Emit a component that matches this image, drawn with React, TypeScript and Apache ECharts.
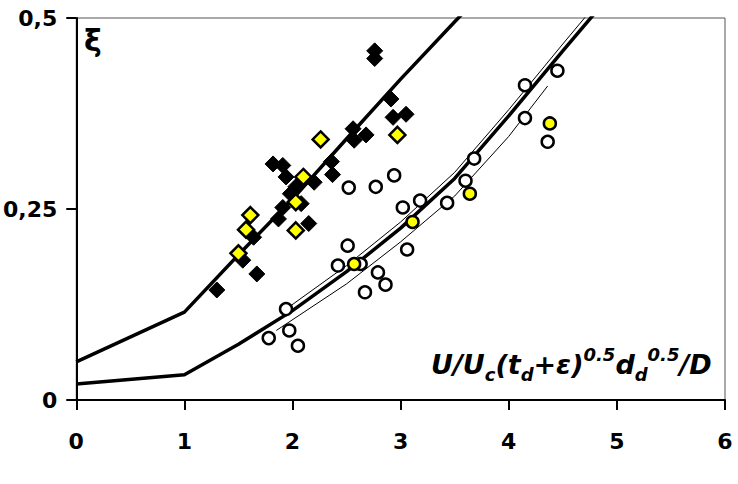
import React, { useEffect, useRef } from "react";
import * as echarts from "echarts";

// Fitted curves
const upperCurveX = [0, 1, 1.5, 2, 2.5, 3, 3.5, 3.6];
const upperCurveY = [0.05, 0.115, 0.19, 0.263, 0.342, 0.42, 0.495, 0.51];

const lowerCurveX = [0, 1, 1.5, 2, 2.5, 3, 3.5, 4, 4.5, 4.8];
const lowerCurveY = [0.021, 0.033, 0.073, 0.117, 0.168, 0.225, 0.29, 0.372, 0.457, 0.507];

const thinUpperX = [1.95, 2.5, 3, 3.5, 4, 4.5, 4.73];
const thinUpperY = [0.12, 0.176, 0.233, 0.298, 0.38, 0.466, 0.505];

const thinLowerX = [1.85, 2.5, 3, 3.5, 4, 4.36];
const thinLowerY = [0.091, 0.152, 0.207, 0.267, 0.345, 0.411];

// Black diamonds
const blackDiamondX = [1.3, 1.54, 1.67, 1.64, 1.82, 1.91, 1.94, 2.03, 1.91, 2.08, 2.2, 2.15, 2.36, 2.37, 2.56, 2.57, 2.68, 2.76, 2.76, 2.91, 2.93, 3.05, 1.98, 1.87];
const blackDiamondY = [0.144, 0.183, 0.165, 0.213, 0.309, 0.307, 0.292, 0.279, 0.252, 0.257, 0.285, 0.231, 0.312, 0.295, 0.355, 0.34, 0.347, 0.457, 0.447, 0.394, 0.37, 0.374, 0.27, 0.237];

// Yellow diamonds
const yellowDiamondX = [1.5, 1.57, 1.61, 2.03, 2.03, 2.1, 2.26, 2.97];
const yellowDiamondY = [0.192, 0.223, 0.242, 0.222, 0.259, 0.292, 0.341, 0.347];

// Open circles
const openCircleX = [1.78, 1.94, 1.97, 2.05, 2.42, 2.51, 2.52, 2.63, 2.67, 2.77, 2.79, 2.86, 2.94, 3.02, 3.06, 3.18, 3.43, 3.6, 3.68, 4.15, 4.15, 4.36, 4.45];
const openCircleY = [0.081, 0.119, 0.091, 0.071, 0.176, 0.202, 0.278, 0.178, 0.141, 0.279, 0.167, 0.151, 0.294, 0.252, 0.197, 0.261, 0.258, 0.287, 0.316, 0.412, 0.369, 0.338, 0.431];

// Yellow circles
const yellowCircleX = [2.57, 3.11, 3.64, 4.38];
const yellowCircleY = [0.178, 0.233, 0.27, 0.362];

const yTickLabels = ["0", "0,25", "0,5"];

const zip = (xs: number[], ys: number[]) => xs.map((x, i) => [x, ys[i]]);

const FONT = "DejaVu Sans";

export default function App() {
  const ref = useRef<HTMLDivElement>(null);
  useEffect(() => {
    document.body.style.margin = "0";
    const chart = echarts.init(ref.current!, null, { renderer: "svg" });
    const labelStyle = {
      color: "#000",
      fontSize: 22,
      fontWeight: "bold" as const,
      fontFamily: FONT,
    };
    const lineSeries = (name: string, data: number[][], width: number, z: number) => ({
      name,
      type: "line" as const,
      data,
      symbol: "none",
      clip: true,
      smooth: false,
      lineStyle: { color: "#000", width },
      z,
    });
    const sub = {
      fontSize: 18,
      fontWeight: "bold",
      fontStyle: "italic",
      fontFamily: FONT,
      fill: "#000",
    };
    chart.setOption({
      animation: false,
      backgroundColor: "#fff",
      grid: {
        left: 72,
        right: 13,
        top: 18,
        bottom: 84,
        show: true,
        borderColor: "#555",
        borderWidth: 1,
      },
      xAxis: {
        type: "value",
        min: 0,
        max: 6,
        interval: 1,
        axisLine: { show: true, onZero: false, lineStyle: { color: "#000", width: 2 } },
        axisTick: { show: true, inside: false, length: 10, lineStyle: { color: "#000", width: 2 } },
        axisLabel: { ...labelStyle, margin: 30 },
        splitLine: { show: false },
      },
      yAxis: {
        type: "value",
        min: 0,
        max: 0.5,
        interval: 0.25,
        axisLine: { show: true, onZero: false, lineStyle: { color: "#000", width: 2 } },
        axisTick: { show: true, inside: false, length: 10, lineStyle: { color: "#000", width: 2 } },
        axisLabel: {
          ...labelStyle,
          margin: 19,
          formatter: (v: number) => yTickLabels[Math.round(v / 0.25)],
        },
        splitLine: { show: false },
      },
      series: [
        lineSeries("upper fit", zip(upperCurveX, upperCurveY), 3.5, 2),
        lineSeries("lower fit", zip(lowerCurveX, lowerCurveY), 3.5, 2),
        lineSeries("lower fit upper band", zip(thinUpperX, thinUpperY), 1, 2),
        lineSeries("lower fit lower band", zip(thinLowerX, thinLowerY), 1, 2),
        {
          name: "black diamonds",
          type: "scatter",
          symbol: "diamond",
          symbolSize: 16,
          data: zip(blackDiamondX, blackDiamondY),
          itemStyle: { color: "#000", borderColor: "#000", borderWidth: 1, opacity: 1 },
          z: 3,
        },
        {
          name: "yellow diamonds",
          type: "scatter",
          symbol: "diamond",
          symbolSize: 16,
          data: zip(yellowDiamondX, yellowDiamondY),
          itemStyle: { color: "#ffff00", borderColor: "#000", borderWidth: 2.5, opacity: 1 },
          z: 4,
        },
        {
          name: "open circles",
          type: "scatter",
          symbol: "circle",
          symbolSize: 12,
          data: zip(openCircleX, openCircleY),
          itemStyle: { color: "#fff", borderColor: "#000", borderWidth: 2.5, opacity: 1 },
          z: 3,
        },
        {
          name: "yellow circles",
          type: "scatter",
          symbol: "circle",
          symbolSize: 12,
          data: zip(yellowCircleX, yellowCircleY),
          itemStyle: { color: "#ffff00", borderColor: "#000", borderWidth: 2.5, opacity: 1 },
          z: 4,
        },
      ],
      graphic: [
        {
          type: "text",
          x: 84,
          y: 25,
          z: 10,
          style: {
            text: "ξ",
            fill: "#000",
            font: `bold 30px ${FONT}`,
          },
        },
        {
          type: "text",
          x: 431,
          y: 345,
          z: 10,
          style: {
            text: "{m|U/U}{s|c}{m|(t}{s|d}{m|+ε)}{p|0.5}{m|d}{s|d}{p|0.5}{m|/D}",
            fill: "#000",
            rich: {
              m: {
                fontSize: 27,
                fontWeight: "bold",
                fontStyle: "italic",
                fontFamily: FONT,
                lineHeight: 38,
                fill: "#000",
              },
              s: { ...sub, verticalAlign: "bottom" },
              p: { ...sub, verticalAlign: "top" },
            },
          },
        },
      ],
    });
    return () => chart.dispose();
  }, []);
  return <div ref={ref} style={{ width: 738, height: 484, position: "absolute", left: 0, top: 0 }} />;
}
